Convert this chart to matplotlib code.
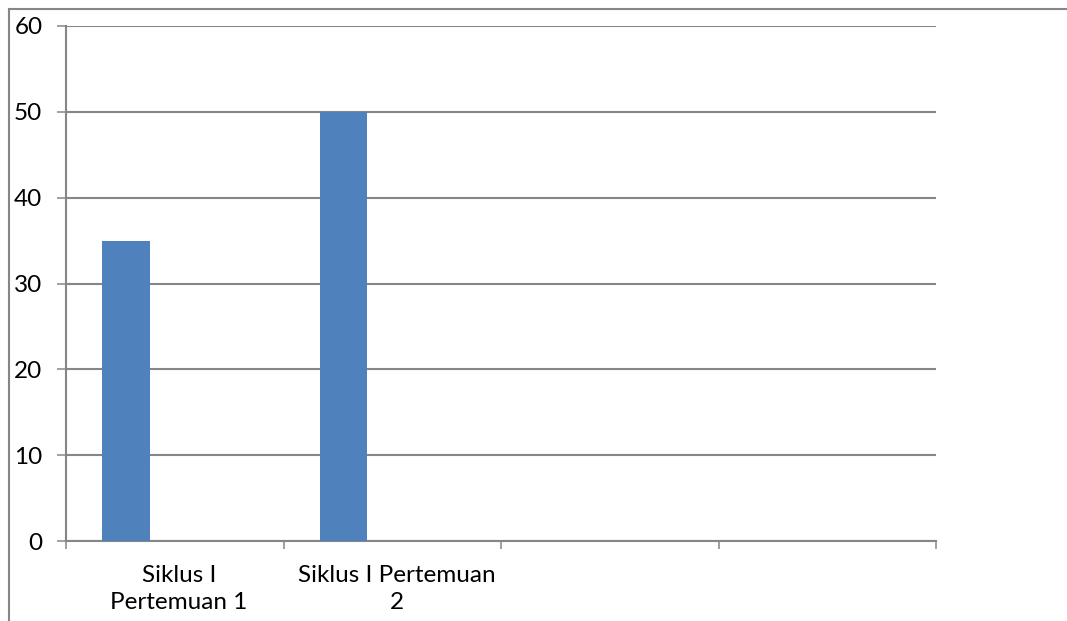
import numpy as np
import matplotlib.pyplot as plt
from matplotlib.lines import Line2D

categories = ["Siklus I\nPertemuan 1", "Siklus I Pertemuan\n2", "", ""]
values = [35, 50, np.nan, np.nan]
y_ticks = [0, 10, 20, 30, 40, 50, 60]

plt.rcParams['font.family'] = ['Lato', 'DejaVu Sans']
grey = "#868686"

fig = plt.figure(figsize=(10.67, 6.21), dpi=100)
ax = fig.add_axes([66 / 1067, 1 - 541 / 621, 870 / 1067, 515 / 621])

x = np.arange(len(categories))
ax.bar(x + 0.166, values, width=0.22, align="edge", color="#4F81BD", zorder=3)

ax.set_xlim(0, len(categories))
ax.set_ylim(0, 60)
ax.set_yticks(y_ticks)
ax.yaxis.grid(True, color=grey, linewidth=1.5, zorder=0)

ax.set_xticks(np.arange(len(categories) + 1))
ax.set_xticklabels([])
ax.set_xticks(x + 0.52, categories, minor=True)
ax.tick_params(axis="x", which="major", length=6, width=1.1, color=grey, direction="out")
ax.tick_params(axis="x", which="minor", length=0, pad=17, labelsize=17.5)
ax.tick_params(axis="y", length=6.5, width=1.1, color=grey, labelsize=17.5, pad=10.5)
for lab in ax.get_xticklabels(minor=True):
    lab.set_linespacing(1.4)

for s in ["top", "right"]:
    ax.spines[s].set_visible(False)
for s in ["left", "bottom"]:
    ax.spines[s].set_color(grey)
    ax.spines[s].set_linewidth(1.5)

# outer chart frame
fig.add_artist(Line2D([9 / 1067, 1], [1 - 9 / 621, 1 - 9 / 621], color=grey, linewidth=1.5))
fig.add_artist(Line2D([9 / 1067, 9 / 1067], [0, 1 - 9 / 621], color=grey, linewidth=1.5))

fig.savefig("out.png", dpi=100)
